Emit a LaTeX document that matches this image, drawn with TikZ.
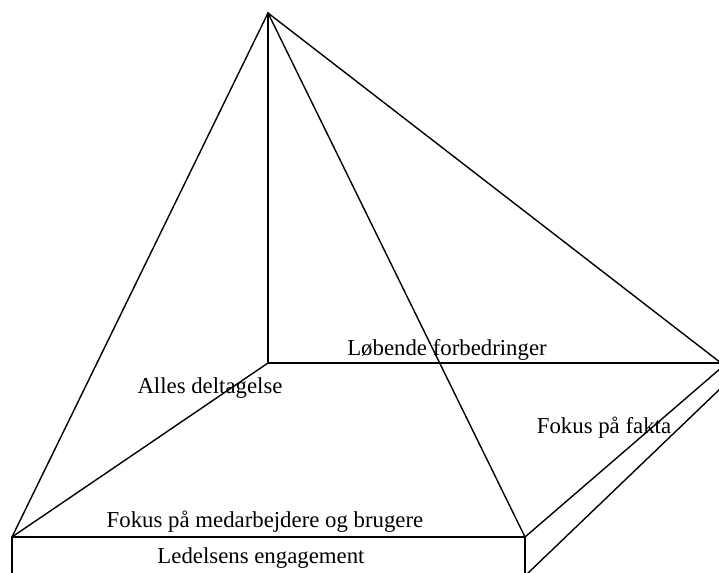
\documentclass[tikz,border=0pt]{standalone}
\usepackage{fontspec}
\setmainfont{Liberation Serif}
\begin{document}
\begin{tikzpicture}[x=1pt,y=-1pt,
  edge/.style={line width=1.4pt,line cap=round},
  base/.style={line width=2.8pt},
  lbl/.style={inner sep=0pt,anchor=base,font=\fontsize{22.8}{27}\selectfont}]
\useasboundingbox (0,0) rectangle (719,572);
\begin{scope}
\clip (0,0) rectangle (719,572);
% pyramid corners
\coordinate (A) at (268,13);
\coordinate (B) at (268,363);
\coordinate (R) at (721,363);
\coordinate (FL) at (12,537);
\coordinate (FR) at (525,537);
% box edges
\coordinate (FLb) at (12,574);
\coordinate (FRb) at (525,574);
\coordinate (RT) at (721,368);
\coordinate (RBs) at (527,574);
\coordinate (RB) at (721,388);
% edges from the apex
\draw[edge] (A) -- (FL);
\draw[edge] (A) -- (FR);
\draw[edge] (A) -- (R);
\draw[edge] (A) -- (B);
% base plane
\draw[edge] (B) -- (FL);
\draw[edge] (B) -- (R);
\draw[base] (FL) -- (FR);
% foundation block
\draw[edge] (FL) -- (FLb);
\draw[edge] (FR) -- (FRb);
\draw[edge] (FR) -- (RT);
\draw[edge] (RBs) -- (RB);
\end{scope}
% labels
\node[lbl] (lf) at (447,355) {Løbende forbedringer};
\node[lbl] (ad) at (210,393) {Alles deltagelse};
\node[lbl] (ff) at (604,433) {Fokus på fakta};
\node[lbl] (fm) at (265,527) {Fokus på medarbejdere og brugere};
\node[lbl] (le) at (261,563) {Ledelsens engagement};
\end{tikzpicture}
\end{document}
